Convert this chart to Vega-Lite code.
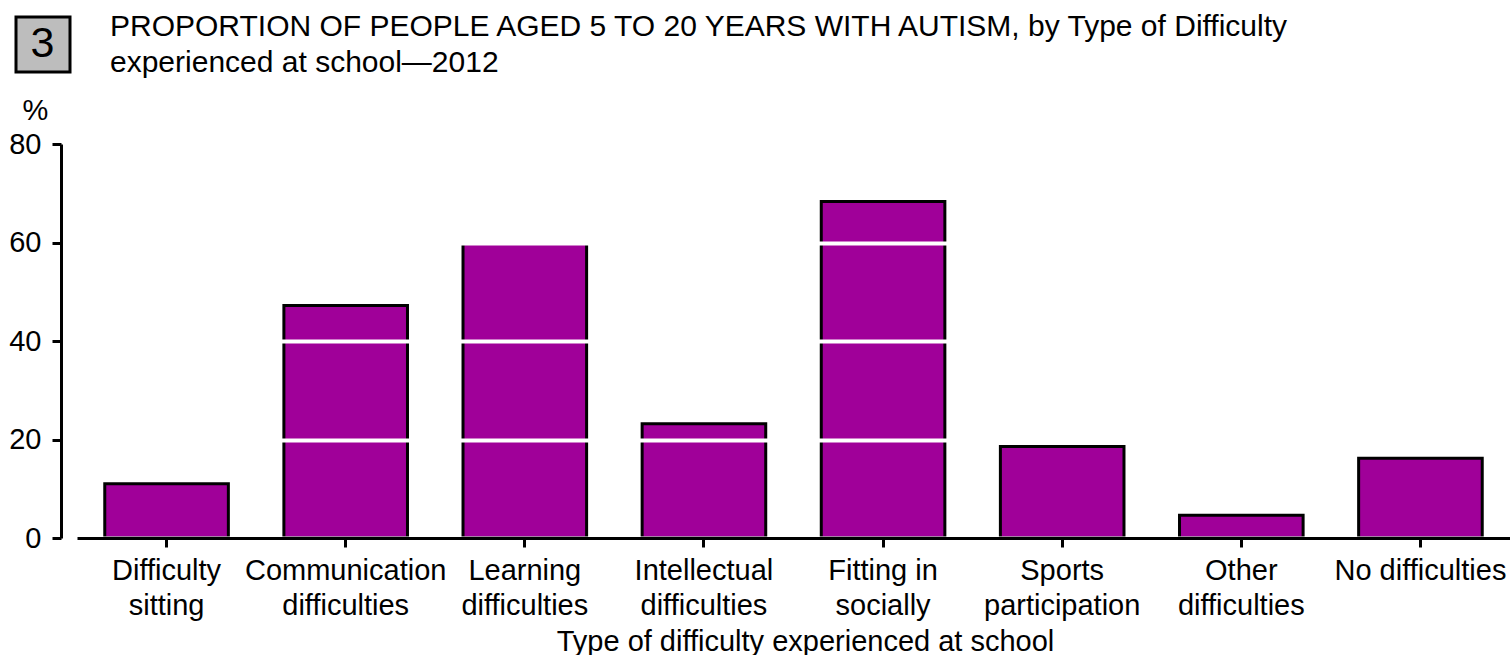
{
  "$schema": "https://vega.github.io/schema/vega-lite/v6.json",
  "autosize": {"type": "none"},
  "padding": {"left": 77, "top": 144, "right": 0, "bottom": 117},
  "width": 1433,
  "height": 394,
  "background": "white",
  "title": {
    "text": ["PROPORTION OF PEOPLE AGED 5 TO 20 YEARS WITH AUTISM, by Type of Difficulty", "experienced at school—2012"],
    "anchor": "start",
    "frame": "group",
    "dx": 33,
    "dy": 62,
    "font": "Liberation Sans",
    "fontSize": 30,
    "fontWeight": "normal",
    "color": "black",
    "lineHeight": 36,
    "offset": 0
  },
  "data": {
    "values": [
      {"difficulty": "Difficulty sitting", "percent": 11.0},
      {"difficulty": "Communication difficulties", "percent": 47.2},
      {"difficulty": "Learning difficulties", "percent": 59.8},
      {"difficulty": "Intellectual difficulties", "percent": 23.2},
      {"difficulty": "Fitting in socially", "percent": 68.3},
      {"difficulty": "Sports participation", "percent": 18.6},
      {"difficulty": "Other difficulties", "percent": 4.6},
      {"difficulty": "No difficulties", "percent": 16.2}
    ]
  },
  "mark": {"type": "bar", "stroke": "black", "strokeWidth": 3},
  "encoding": {
    "x": {
      "field": "difficulty",
      "type": "nominal",
      "sort": null,
      "scale": {"paddingInner": 0.31, "paddingOuter": 0.155},
      "axis": {
        "title": "Type of difficulty experienced at school",
        "titleFont": "Liberation Sans",
        "titleFontSize": 29,
        "titleFontWeight": "normal",
        "titleColor": "black",
        "titleAlign": "center",
        "titleBaseline": "alphabetic",
        "titleX": 728,
        "titleY": 112,
        "labelAngle": 0,
        "labelFont": "Liberation Sans",
        "labelFontSize": 29,
        "labelColor": "black",
        "labelBaseline": "top",
        "labelLineHeight": 35,
        "labelPadding": 9,
        "labelLimit": 400,
        "labelExpr": "datum.label == 'Fitting in socially' ? ['Fitting in', 'socially'] : datum.label == 'No difficulties' ? datum.label : split(datum.label, ' ')",
        "domainColor": "black",
        "domainWidth": 3,
        "tickColor": "black",
        "tickWidth": 3,
        "tickSize": 9,
        "grid": false,
        "zindex": 2
      }
    },
    "y": {
      "field": "percent",
      "type": "quantitative",
      "scale": {"domain": [0, 80], "nice": false},
      "axis": {
        "values": [0, 20, 40, 60, 80],
        "title": "%",
        "titleAngle": 0,
        "titleFont": "Liberation Sans",
        "titleFontSize": 29,
        "titleFontWeight": "normal",
        "titleColor": "black",
        "titleAlign": "left",
        "titleBaseline": "alphabetic",
        "titleX": -39,
        "titleY": -25,
        "offset": 16,
        "labelFont": "Liberation Sans",
        "labelFontSize": 29,
        "labelColor": "black",
        "labelPadding": 11,
        "domainColor": "black",
        "domainWidth": 3,
        "tickColor": "black",
        "tickWidth": 3,
        "tickSize": 9,
        "grid": true,
        "gridColor": "white",
        "gridWidth": 4,
        "gridOpacity": 1,
        "zindex": 1
      }
    },
    "color": {
      "datum": "3",
      "scale": {"range": ["#A00099"]},
      "legend": {
        "orient": "none",
        "legendX": -61,
        "legendY": -127,
        "title": null,
        "padding": 5.5,
        "fillColor": "#BDBDBD",
        "strokeColor": "black",
        "symbolType": "square",
        "symbolSize": 1764,
        "symbolOpacity": 0,
        "symbolFillColor": "transparent",
        "symbolStrokeColor": "transparent",
        "symbolStrokeWidth": 0,
        "labelOffset": -34,
        "labelFont": "Liberation Sans",
        "labelFontSize": 43,
        "labelColor": "black"
      }
    }
  },
  "config": {
    "view": {"stroke": null},
    "legend": {"strokeWidth": 3}
  }
}
